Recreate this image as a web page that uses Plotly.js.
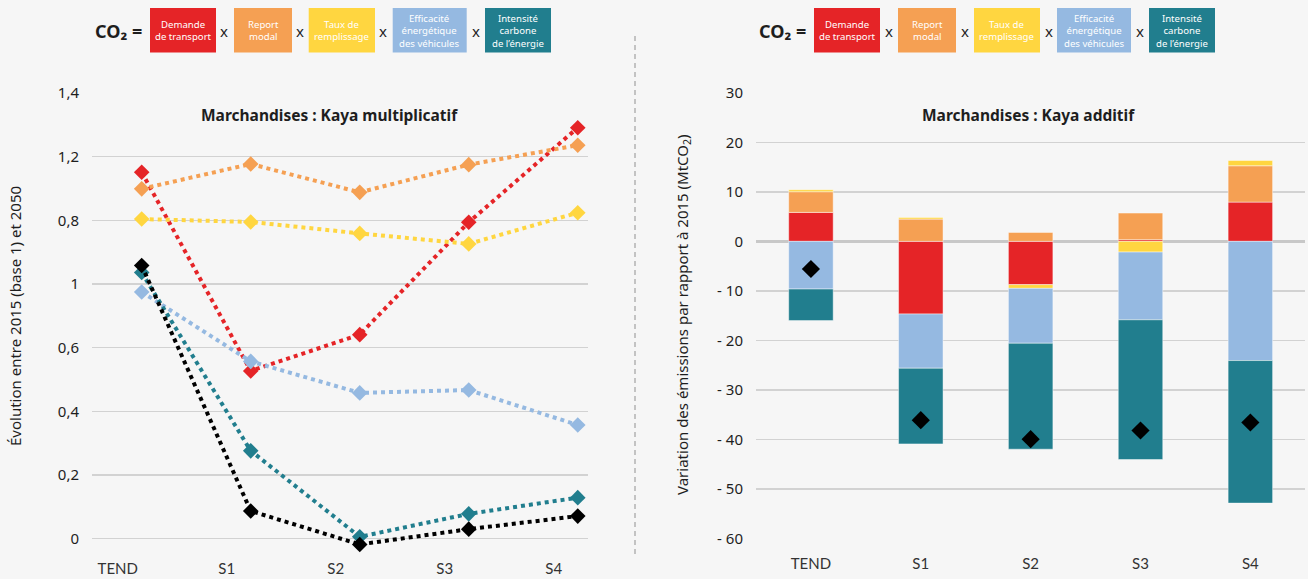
<!DOCTYPE html>
<html>
<head>
<meta charset="utf-8">
<script src="https://cdn.plot.ly/plotly-3.0.1.min.js"></script>
<style>
  html, body { margin: 0; padding: 0; background: #f6f6f6; }
  #chart { width: 1308px; height: 579px; }
</style>
</head>
<body>
<div id="chart"></div>
<script>
// ---------- DATA ----------
const categories = ['TEND', 'S1', 'S2', 'S3', 'S4'];

// Left chart: Kaya multiplicatif (values on the chart's linear vertical scale)
const multDemande      = [1.151, 0.527, 0.641, 0.994, 1.291];
const multReport       = [1.099, 1.177, 1.088, 1.175, 1.236];
const multRemplissage  = [1.004, 0.995, 0.959, 0.926, 1.024];
const multEfficacite   = [0.775, 0.557, 0.458, 0.467, 0.357];
const multIntensite    = [0.836, 0.276, 0.006, 0.078, 0.129];
const multCO2          = [0.858, 0.087, -0.018, 0.030, 0.071];
const leftTickVals     = [0, 0.2, 0.4, 0.6, 0.8, 1.0, 1.2, 1.4];
const leftTickText     = ['0', '0,2', '0,4', '0,6', '1', '0,8', '1,2', '1,4'];

// Right chart: Kaya additif (MtCO2)
const addDemande      = [5.85, -14.66, -8.73, 0.34, 7.92];
const addReport       = [4.17, 4.50, 1.81, 5.37, 7.34];
const addRemplissage  = [0.40, 0.34, -0.75, -2.16, 1.07];
const addEfficacite   = [-9.62, -10.94, -11.08, -13.67, -24.05];
const addIntensite    = [-6.37, -15.27, -21.38, -28.19, -28.77];
const addTotal        = [-5.58, -36.09, -39.92, -38.17, -36.55];
const rightTickVals   = [30, 20, 10, 0, -10, -20, -30, -40, -50, -60];
const rightTickText   = ['30', '20', '10', '0', '- 10', '- 20', '- 30', '- 40', '- 50', '- 60'];

const factorLabels = ['Demande<br>de transport', 'Report<br>modal', 'Taux de<br>remplissage',
                      'Efficacité<br>énergétique<br>des véhicules', 'Intensité<br>carbone<br>de l’énergie'];

// ---------- STYLE ----------
const W = 1308, H = 579;
const COLORS = ['#e52427', '#f5a053', '#ffd640', '#95b9e1', '#217e8e'];
const BLACK = '#000000';
const TXT = '#1e1e1e';
const GRID = '#d2d2d2';
const FONT = '"Noto Sans", "Open Sans", sans-serif';
const px = x => x / W;
const py = y => 1 - y / H;

const idx = categories.map((c, i) => i);

// left scale: 0 at y=538.7px, 1.4 at y=93px ; extend range a little below 0
const LEFT_PX_PER_UNIT = (538.7 - 93) / 1.4;
const LEFT_MIN = -0.06;

function lineTrace(values, color, name) {
  return {
    type: 'scatter', mode: 'lines+markers', name: name,
    x: idx, y: values, xaxis: 'x', yaxis: 'y',
    line: { color: color, width: 4, dash: 'dot' },
    marker: { symbol: 'diamond', size: 12, color: color },
    cliponaxis: false, hoverinfo: 'y'
  };
}

function barTrace(values, color, name) {
  return {
    type: 'bar', name: name, x: categories, y: values, xaxis: 'x2', yaxis: 'y2',
    marker: { color: color, line: { color: 'rgba(255,255,255,0.45)', width: 1 } }
  };
}

const traces = [
  lineTrace(multDemande, COLORS[0], 'Demande de transport'),
  lineTrace(multReport, COLORS[1], 'Report modal'),
  lineTrace(multRemplissage, COLORS[2], 'Taux de remplissage'),
  lineTrace(multEfficacite, COLORS[3], 'Efficacité énergétique'),
  lineTrace(multIntensite, COLORS[4], 'Intensité carbone'),
  lineTrace(multCO2, BLACK, 'CO2'),
  barTrace(addDemande, COLORS[0], 'Demande de transport'),
  barTrace(addReport, COLORS[1], 'Report modal'),
  barTrace(addRemplissage, COLORS[2], 'Taux de remplissage'),
  barTrace(addEfficacite, COLORS[3], 'Efficacité énergétique'),
  barTrace(addIntensite, COLORS[4], 'Intensité carbone'),
  {
    type: 'scatter', mode: 'markers', name: 'CO2', x: categories, y: addTotal,
    xaxis: 'x2', yaxis: 'y2',
    marker: { symbol: 'diamond', size: 14, color: BLACK }, cliponaxis: false
  }
];

// Header boxes (pixel positions)
const leftBoxes  = [[150, 216], [234, 292], [308.7, 375], [392.7, 466.7], [485, 551]];
const rightBoxes = [[814, 880], [898, 956], [974, 1040], [1057, 1131], [1149, 1215]];
const leftX  = [224, 300, 383, 475.7];
const rightX = [889, 965, 1049, 1140];
const boxTop = 8, boxBottom = 52.5, boxMid = 30.5;

const shapes = [];
const annotations = [];

function header(boxes, xs, co2x) {
  boxes.forEach((b, i) => {
    shapes.push({ type: 'rect', xref: 'paper', yref: 'paper',
      x0: px(b[0]), x1: px(b[1]), y0: py(boxBottom), y1: py(boxTop),
      fillcolor: COLORS[i], line: { width: 0 }, layer: 'above' });
    annotations.push({ xref: 'paper', yref: 'paper', x: px((b[0] + b[1]) / 2), y: py(boxMid),
      text: factorLabels[i], showarrow: false, xanchor: 'center', yanchor: 'middle',
      font: { family: FONT, size: 9.6, color: '#ffffff' }, align: 'center' });
  });
  xs.forEach(x => annotations.push({ xref: 'paper', yref: 'paper', x: px(x), y: py(boxMid),
    text: 'x', showarrow: false, xanchor: 'center', yanchor: 'middle',
    font: { family: FONT, size: 15, color: TXT } }));
  annotations.push({ xref: 'paper', yref: 'paper', x: px(co2x), y: py(boxMid),
    text: '<b>CO₂ =</b>', showarrow: false, xanchor: 'center', yanchor: 'middle',
    font: { family: FONT, size: 18, color: TXT } });
}
header(leftBoxes, leftX, 118);
header(rightBoxes, rightX, 782);

// divider
shapes.push({ type: 'line', xref: 'paper', yref: 'paper', x0: px(635), x1: px(635),
  y0: py(36), y1: py(554), line: { color: '#a8a8a8', width: 1.3, dash: '5px,4px' } });

// chart titles
annotations.push({ xref: 'paper', yref: 'paper', x: px(329), y: py(115),
  text: '<b>Marchandises : Kaya multiplicatif</b>', showarrow: false,
  xanchor: 'center', yanchor: 'middle', font: { family: FONT, size: 15.5, color: TXT } });
annotations.push({ xref: 'paper', yref: 'paper', x: px(1028), y: py(115),
  text: '<b>Marchandises : Kaya additif</b>', showarrow: false,
  xanchor: 'center', yanchor: 'middle', font: { family: FONT, size: 15.5, color: TXT } });

// axis titles
annotations.push({ xref: 'paper', yref: 'paper', x: px(15), y: py(316),
  text: 'Évolution entre 2015 (base 1) et 2050', textangle: -90, showarrow: false,
  xanchor: 'center', yanchor: 'middle', font: { family: FONT, size: 15, color: TXT } });
annotations.push({ xref: 'paper', yref: 'paper', x: px(683), y: py(315),
  text: 'Variation des émissions par rapport à 2015 (MtCO<sub>2</sub>)', textangle: -90, showarrow: false,
  xanchor: 'center', yanchor: 'middle', font: { family: FONT, size: 15, color: TXT } });

const leftBottomPx = 538.7 - LEFT_MIN * LEFT_PX_PER_UNIT;

const layout = {
  width: W, height: H,
  margin: { l: 0, r: 0, t: 0, b: 0 },
  paper_bgcolor: '#f6f6f6', plot_bgcolor: 'rgba(0,0,0,0)',
  showlegend: false,
  barmode: 'relative', bargap: 0.595,
  font: { family: FONT, color: TXT },
  xaxis: {
    domain: [px(92), px(588)], range: [-0.456, 4.094], anchor: 'y',
    showgrid: false, zeroline: false, showline: false,
    tickmode: 'array', tickvals: idx.map(i => i - 0.22), ticktext: categories,
    tickfont: { family: '"Lato", sans-serif', size: 15, color: '#333' },
    ticklabelstandoff: 14 - (leftBottomPx - 538.7), fixedrange: true
  },
  yaxis: {
    domain: [py(leftBottomPx), py(93)], range: [LEFT_MIN, 1.4], anchor: 'x',
    showgrid: true, gridcolor: GRID, gridwidth: 1.5, zeroline: false, showline: false,
    tickmode: 'array', tickvals: leftTickVals, ticktext: leftTickText,
    tickfont: { family: FONT, size: 15, color: TXT }, ticklabelstandoff: 12, fixedrange: true
  },
  xaxis2: {
    domain: [px(756), px(1305.3)], range: [-0.5, 4.5], anchor: 'y2', type: 'category',
    showgrid: false, zeroline: false, showline: false,
    tickfont: { family: '"Lato", sans-serif', size: 15, color: '#333' },
    ticklabelstandoff: 14, fixedrange: true
  },
  yaxis2: {
    domain: [py(538.7), py(92.7)], range: [-60, 30], anchor: 'x2',
    showgrid: true, gridcolor: GRID, gridwidth: 1.5, zeroline: true, zerolinecolor: '#c8c8c8', zerolinewidth: 2.5,
    showline: false,
    tickmode: 'array', tickvals: rightTickVals, ticktext: rightTickText,
    tickfont: { family: FONT, size: 15, color: TXT }, ticklabelstandoff: 12, fixedrange: true
  },
  shapes: shapes,
  annotations: annotations
};

Plotly.newPlot('chart', traces, layout, { displayModeBar: false, staticPlot: true });
</script>
</body>
</html>
